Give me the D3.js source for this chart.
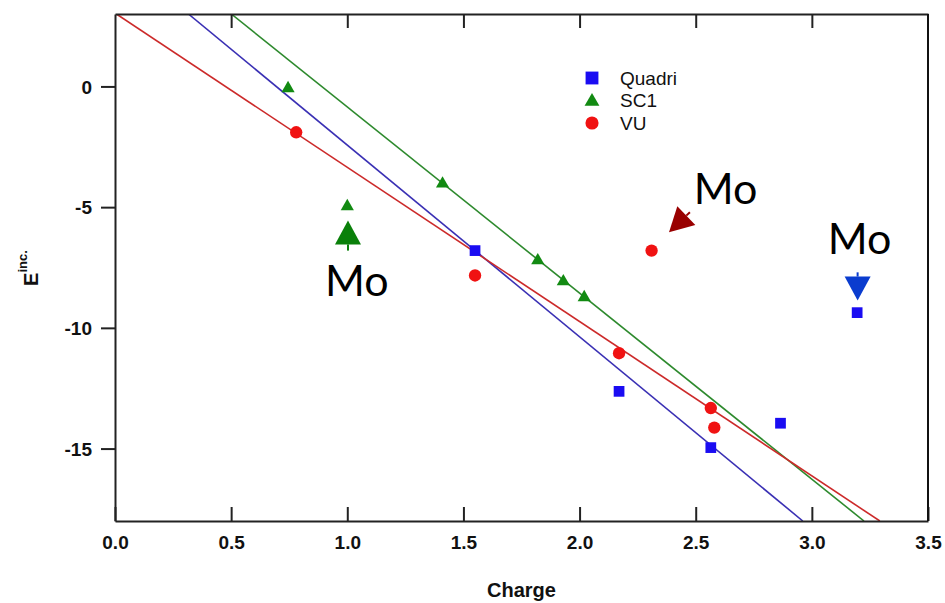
<!DOCTYPE html>
<html>
  <head>
    <meta charset="utf-8">
    <title>E inc. vs Charge</title>
    <script src="https://cdn.jsdelivr.net/npm/d3@7"></script>
    <style media="screen">
      body {
        margin: 0;
        background: #fff;
      }
      svg {
        display: block;
        font-family: "Liberation Sans", Arial, sans-serif;
      }
      .tick text {
        font-size: 19px;
        font-weight: bold;
        fill: #111;
      }
      .mo {
        font-family: Lato, "Open Sans", sans-serif;
        font-size: 43px;
        fill: #000;
      }
    </style>
  </head>
  <body>
    <script type="text/javascript">

    // data
    const quadriX = [1.55, 2.17, 2.565, 2.865, 3.195];
    const quadriY = [-6.8, -12.63, -14.96, -13.95, -9.37];
    const sc1X = [0.745, 1.0, 1.41, 1.82, 1.93, 2.02];
    const sc1Y = [-0.08, -4.97, -4.03, -7.21, -8.08, -8.74];
    const vuX = [0.78, 1.55, 2.17, 2.31, 2.565, 2.58];
    const vuY = [-1.9, -7.83, -11.05, -6.8, -13.32, -14.13];

    // linear fits: slope, intercept
    const fitNames = ['Quadri', 'SC1', 'VU'];
    const fitSlope = [-7.94, -7.71, -6.39];
    const fitIntercept = [5.51, 6.86, 3.04];

    const xTicks = [0, 0.5, 1, 1.5, 2, 2.5, 3, 3.5];
    const yTicks = [0, -5, -10, -15];

    // "Mo" annotations: arrow from (x0,y0) to tip (x1,y1), label at (lx,ly)
    const moX0 = [1.003, 2.475, 3.197];
    const moY0 = [-6.80, -5.21, -7.70];
    const moX1 = [1.003, 2.385, 3.197];
    const moY1 = [-5.55, -6.04, -8.87];
    const moLabelX = [1.041, 2.628, 3.205];
    const moLabelY = [-8.66, -4.85, -6.93];
    const moColors = ['#0a800a', '#990000', '#0a3ccf'];

    let margin = {top: 14, right: 17, left: 115, bottom: 82},
        width = 945 - margin.left - margin.right,
        height = 603 - margin.top - margin.bottom;

    var svg = d3.select('body').append('svg')
      .attr('width', 945)
      .attr('height', 603);

    var g = svg.append('g')
      .attr('transform', 'translate(' + margin.left + ',' + margin.top + ')');

    var x = d3.scaleLinear().domain([0, 3.5]).range([0, width]);
    var y = d3.scaleLinear().domain([-18, 3]).range([height, 0]);

    g.append('clipPath').attr('id', 'plot')
      .append('rect').attr('width', width).attr('height', height);

    // fit lines
    const lineColors = ['#3a30b4', '#2e8a2e', '#cc2a2a'];
    fitNames.forEach((n, i) => {
      let xa = (3 - fitIntercept[i]) / fitSlope[i];
      let xb = (-18 - fitIntercept[i]) / fitSlope[i];
      let pts = [[xa, 3], [xb, -18]];
      g.append('path')
        .attr('clip-path', 'url(#plot)')
        .attr('d', d3.line().x(d => x(d[0])).y(d => y(d[1]))(pts))
        .attr('fill', 'none')
        .attr('stroke', lineColors[i])
        .attr('stroke-width', 1.6);
    });

    // axes
    let xAxis = g.append('g')
      .attr('transform', 'translate(0,' + height + ')')
      .call(d3.axisBottom(x).tickValues(xTicks).tickFormat(d3.format('.1f'))
        .tickSizeInner(-14).tickSizeOuter(0).tickPadding(15));

    let topAxis = g.append('g')
      .call(d3.axisTop(x).tickValues(xTicks.slice(1, -1)).tickFormat('')
        .tickSizeInner(-14).tickSizeOuter(0));

    // plain hyphen for the minus sign, as in the original
    let yAxis = g.append('g')
      .call(d3.axisLeft(y).tickValues(yTicks).tickFormat(d => String(d))
        .tickSizeInner(14).tickSizeOuter(0).tickPadding(9));

    g.selectAll('.domain, .tick line')
      .attr('stroke', '#222')
      .attr('stroke-width', 2);
    yAxis.selectAll('.tick text').attr('dy', '0.36em');

    g.append('line')
      .attr('x1', width).attr('x2', width)
      .attr('y1', 0).attr('y2', height)
      .attr('stroke', '#111').attr('stroke-width', 2);

    // points
    const sym = {
      square: d3.symbol().type(d3.symbolSquare).size(115),
      triangle: d3.symbol().type(d3.symbolTriangle).size(75),
      circle: d3.symbol().type(d3.symbolCircle).size(120)
    };

    function drawPoints(xs, ys, shape, color) {
      g.selectAll(null)
        .data(xs.map((v, i) => [v, ys[i]]))
        .enter().append('path')
        .attr('d', sym[shape])
        .attr('transform', d => 'translate(' + x(d[0]) + ',' + y(d[1]) + ')')
        .attr('fill', color);
    }
    drawPoints(quadriX, quadriY, 'square', '#1a0cf2');
    drawPoints(sc1X, sc1Y, 'triangle', '#128a12');
    drawPoints(vuX, vuY, 'circle', '#f01212');

    // legend
    const legendNames = ['Quadri', 'SC1', 'VU'];
    const legendShapes = [
      d3.symbol().type(d3.symbolSquare).size(165),
      d3.symbol().type(d3.symbolTriangle).size(95),
      d3.symbol().type(d3.symbolCircle).size(135)
    ];
    const legendColors = ['#1a0cf2', '#128a12', '#f01212'];
    let legend = svg.append('g').attr('transform', 'translate(592,78)');
    legendNames.forEach((n, i) => {
      legend.append('path')
        .attr('d', legendShapes[i])
        .attr('transform', 'translate(0,' + (i * 22.5 + (i == 1 ? 1 : 0)) + ')')
        .attr('fill', legendColors[i]);
      legend.append('text')
        .attr('x', 28)
        .attr('y', i * 22.5 + 6.5)
        .style('font-size', '19px')
        .attr('fill', '#111')
        .text(n);
    });

    // Mo annotations
    moX0.forEach((v, i) => {
      let p0 = [x(v), y(moY0[i])], p1 = [x(moX1[i]), y(moY1[i])];
      let dx = p1[0] - p0[0], dy = p1[1] - p0[1];
      let len = Math.sqrt(dx * dx + dy * dy);
      let ux = dx / len, uy = dy / len;
      let headL = 24, headW = 13;
      let base = [p1[0] - ux * headL, p1[1] - uy * headL];
      g.append('line')
        .attr('x1', p0[0]).attr('y1', p0[1])
        .attr('x2', base[0]).attr('y2', base[1])
        .attr('stroke', moColors[i]).attr('stroke-width', 2);
      g.append('path')
        .attr('d', 'M' + p1[0] + ',' + p1[1] +
          'L' + (base[0] - uy * headW) + ',' + (base[1] + ux * headW) +
          'L' + (base[0] + uy * headW) + ',' + (base[1] - ux * headW) + 'Z')
        .attr('fill', moColors[i]);
      g.append('text')
        .attr('class', 'mo')
        .attr('x', x(moLabelX[i]))
        .attr('y', y(moLabelY[i]))
        .attr('text-anchor', 'middle')
        .text('Mo');
    });

    // axis titles
    svg.append('text')
      .attr('x', margin.left + x(1.75))
      .attr('y', 597)
      .attr('text-anchor', 'middle')
      .style('font-size', '20px')
      .style('font-weight', 'bold')
      .attr('fill', '#111')
      .text('Charge');

    let ylab = svg.append('text')
      .attr('transform', 'translate(38,268) rotate(-90)')
      .attr('text-anchor', 'middle')
      .style('font-weight', 'bold')
      .attr('fill', '#111');
    ylab.append('tspan').style('font-size', '20px').text('E');
    ylab.append('tspan').style('font-size', '13px').attr('dy', '-11').text('inc.');

    </script>
  </body>
</html>
